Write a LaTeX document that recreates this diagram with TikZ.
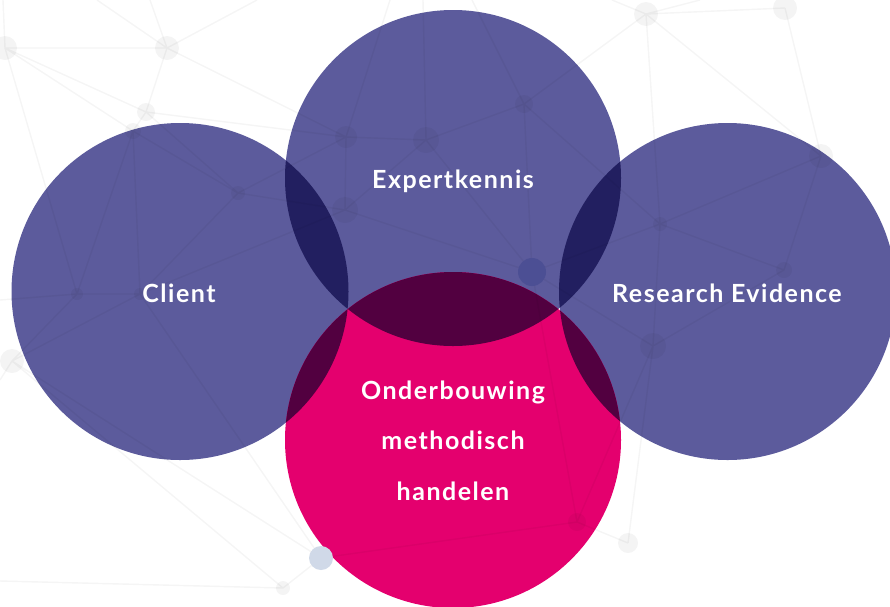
\documentclass[tikz,border=0pt]{standalone}
\usepackage{fontspec}
\setmainfont{Lato}
\newfontfamily\lblfont[LetterSpace=6]{Lato}
\definecolor{cpurple}{RGB}{92,91,156}
\definecolor{cnavy}{RGB}{34,31,96}
\definecolor{cpink}{RGB}{228,0,110}
\definecolor{cmaroon}{RGB}{82,0,64}
\definecolor{cdotblue}{RGB}{76,79,148}
\definecolor{clightblue}{RGB}{208,217,232}
\tikzset{
  netline/.style={draw=black, draw opacity=0.04, line width=1.4pt},
  netdot/.style={fill=black, fill opacity=0.045},
  lbl/.style={text=white, font=\lblfont\bfseries\fontsize{25}{28}\selectfont, anchor=base, inner sep=0pt}
}
\begin{document}
\begin{tikzpicture}[x=1pt,y=-1pt]
\useasboundingbox (0,0) rectangle (890,606);
\fill[white] (0,0) rectangle (890,606);
% circles
\coordinate (cc) at (180,291.5);
\coordinate (ce) at (453,178);
\coordinate (cr) at (727.5,291.5);
\coordinate (cp) at (453,440);
\fill[cpurple] (cc) circle[radius=168.5pt];
\fill[cpurple] (ce) circle[radius=168pt];
\fill[cpurple] (cr) circle[radius=168.5pt];
\fill[cpink] (cp) circle[radius=168pt];
\begin{scope}
  \clip (cc) circle[radius=168.5pt];
  \fill[cnavy] (ce) circle[radius=168pt];
\end{scope}
\begin{scope}
  \clip (cr) circle[radius=168.5pt];
  \fill[cnavy] (ce) circle[radius=168pt];
\end{scope}
\begin{scope}
  \clip (cp) circle[radius=168pt];
  \fill[cmaroon] (cc) circle[radius=168.5pt];
  \fill[cmaroon] (ce) circle[radius=168pt];
  \fill[cmaroon] (cr) circle[radius=168.5pt];
\end{scope}
% network coordinates
\coordinate (A) at (5,48);
\coordinate (B) at (167,48);
\coordinate (C) at (146,112);
\coordinate (D) at (133,131);
\coordinate (E) at (238,193);
\coordinate (F) at (346,137);
\coordinate (G) at (426,140);
\coordinate (H) at (524,104);
\coordinate (I) at (646,14);
\coordinate (J) at (785,8);
\coordinate (K) at (821,156);
\coordinate (L) at (345,210);
\coordinate (M) at (532,272);
\coordinate (N) at (660,224);
\coordinate (O) at (784,270);
\coordinate (P) at (653,346);
\coordinate (Q) at (77,294);
\coordinate (R) at (140,294);
\coordinate (S) at (12,361);
\coordinate (T) at (321,558);
\coordinate (U) at (283,588);
\coordinate (V) at (577,522);
\coordinate (W) at (628,543);
\coordinate (e1) at (3,0);
\coordinate (e2) at (97,0);
\coordinate (e3) at (150,0);
\coordinate (e4) at (257,0);
\coordinate (e5) at (0,300);
\coordinate (e6) at (0,581);
\coordinate (e7) at (612,0);
\coordinate (e8) at (700,0);
\coordinate (e9) at (472,0);
\coordinate (e10) at (423,0);
\coordinate (e11) at (390,0);
\coordinate (e12) at (0,380);
\path[netline] (A)--(B) (A)--(C) (A)--(D) (A)--(Q) (A)--(e1)
  (B)--(C) (B)--(e2) (B)--(e3) (B)--(e4) (B)--(F)
  (C)--(F) (C)--(D) (C)--(E) (D)--(E) (D)--(R) (D)--(Q)
  (E)--(F) (E)--(L) (E)--(R) (R)--(L) (Q)--(R) (Q)--(e5) (Q)--(S) (R)--(S)
  (R)--(T) (S)--(T) (S)--(U) (e6)--(U) (U)--(T) (T)--(V) (V)--(W) (V)--(M)
  (V)--(P) (W)--(P) (P)--(N) (P)--(O) (N)--(O) (I)--(N) (M)--(N) (K)--(N)
  (K)--(O) (K)--(J) (I)--(K) (I)--(J) (I)--(e7) (I)--(e8) (I)--(H)
  (H)--(G) (H)--(e9) (H)--(N) (H)--(M) (G)--(F) (G)--(e10) (G)--(M) (G)--(L)
  (F)--(e11) (F)--(L) (L)--(M) (M)--(P) (S)--(e12);
\foreach \p/\r in {A/12,B/12,C/9,D/8,E/7,F/11,G/13,H/9,I/12,J/12,K/12,L/13,N/7,O/8,P/13,Q/6,R/6,S/12,U/7,V/9,W/10}
  \fill[netdot] (\p) circle[radius=\r pt];
\fill[cdotblue] (M) circle[radius=14pt];
\fill[clightblue] (T) circle[radius=12pt];
% labels
\node[lbl] (tclient) at (179,302) {Client};
\node[lbl] (texpert) at (453,188) {Expertkennis};
\node[lbl] (tresearch) at (727,302) {Research Evidence};
\node[lbl] (tond1) at (453,399) {Onderbouwing};
\node[lbl] (tond2) at (453,449) {methodisch};
\node[lbl] (tond3) at (453,500) {handelen};
\end{tikzpicture}
\end{document}
